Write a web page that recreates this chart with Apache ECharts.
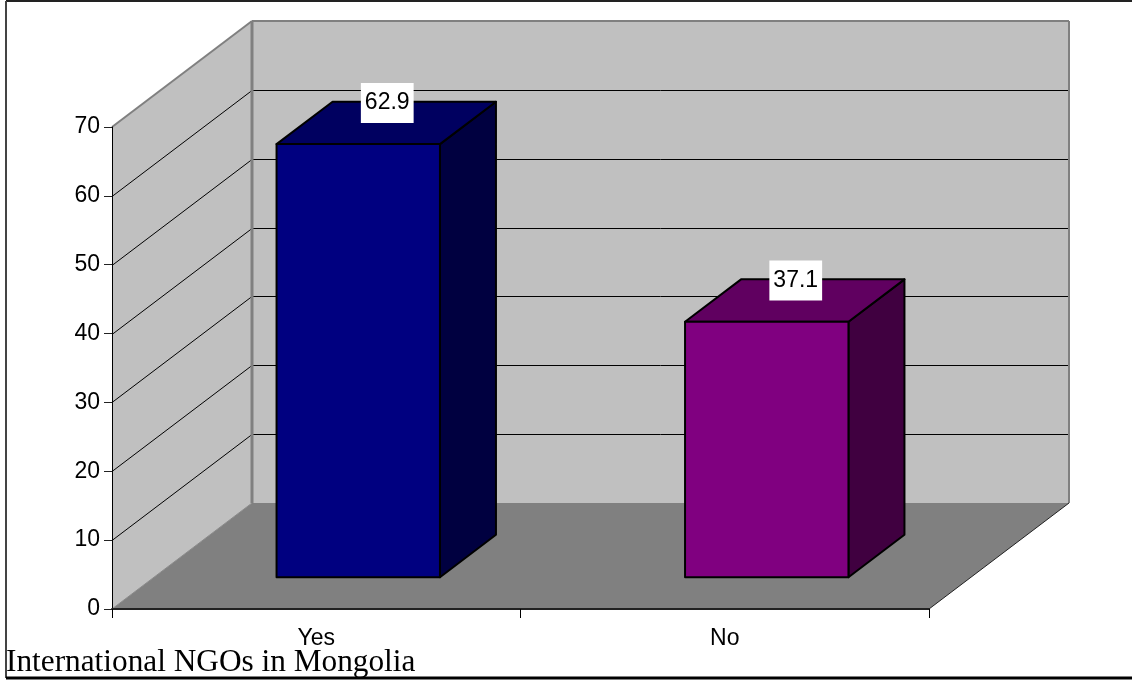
<!DOCTYPE html>
<html>
<head>
<meta charset="utf-8">
<style>html,body{margin:0;padding:0;background:#fff}#c{width:1132px;height:680px}</style>
<script src="https://cdn.jsdelivr.net/npm/echarts@6/dist/echarts.min.js"></script>
</head>
<body>
<div id="c"></div>
<script>
const categories = ['Yes', 'No'];
const values = [62.9, 37.1];
const yTicks = [10, 20, 30, 40, 50, 60, 70];
const chartTitle = 'International NGOs in Mongolia';

const faceColors = [
  { front: '#000080', top: '#000060', side: '#000040' },
  { front: '#800080', top: '#600060', side: '#400040' }
];
const DX = 140, DY = -106;           // projection of the full floor depth
const BAR_START = 0.3, BAR_END = 0.7; // bar's depth range within the floor
const BAR_W = 0.4;                    // bar's width as a share of the band
const LABEL_FONT = '"Liberation Sans"';

function poly(points, fill, stroke, lw) {
  return { type: 'polygon', shape: { points }, style: { fill, stroke: stroke || 'none', lineWidth: lw || 0, lineJoin: 'round' } };
}
function seg(a, b, stroke, lw) {
  return { type: 'line', shape: { x1: a[0], y1: a[1], x2: b[0], y2: b[1] }, style: { stroke, lineWidth: lw } };
}

function renderWalls(params, api) {
  const cs = params.coordSys;
  const x0 = cs.x, x1 = cs.x + cs.width;
  const y0 = api.coord([0, 0])[1], yT = api.coord([0, 70])[1];
  const children = [
    poly([[x0, y0], [x0 + DX, y0 + DY], [x0 + DX, yT + DY], [x0, yT]], '#c0c0c0'),
    poly([[x0 + DX, y0 + DY], [x1 + DX, y0 + DY], [x1 + DX, yT + DY], [x0 + DX, yT + DY]], '#c0c0c0'),
    poly([[x0, y0], [x1, y0], [x1 + DX, y0 + DY], [x0 + DX, y0 + DY]], '#808080')
  ];
  yTicks.slice(0, -1).forEach(t => {
    const y = Math.round(api.coord([0, t])[1]) + 0.5;
    children.push(seg([x0, y], [x0 + DX, y + DY], '#000', 1));
    children.push(seg([x0 + DX, y + DY], [x1 + DX, y + DY], '#000', 1));
  });
  children.push(seg([x0, yT], [x0 + DX, yT + DY], '#808080', 2));
  children.push(seg([x0 + DX, yT + DY], [x1 + DX, yT + DY], '#808080', 2));
  children.push(seg([x0 + DX, yT + DY], [x0 + DX, y0 + DY], '#808080', 3));
  children.push(seg([x1 + DX, yT + DY], [x1 + DX, y0 + DY], '#808080', 2));
  children.push(seg([x0, y0], [x0 + DX, y0 + DY], '#8a8a8a', 1));
  children.push(seg([x1, y0], [x1 + DX, y0 + DY], '#222', 1));
  return { type: 'group', children };
}

function renderBar(params, api) {
  const idx = api.value(0), val = api.value(1);
  const base = api.coord([idx, 0]), topP = api.coord([idx, val]);
  const band = api.size([1, 0])[0];
  const w = band * BAR_W;
  const l = base[0] - w / 2 + DX * BAR_START;
  const r = l + w;
  const b = base[1] + DY * BAR_START;
  const t = topP[1] + DY * BAR_START;
  const dx = DX * (BAR_END - BAR_START), dy = DY * (BAR_END - BAR_START);
  const c = faceColors[idx];
  return {
    type: 'group',
    children: [
      poly([[r, b], [r + dx, b + dy], [r + dx, t + dy], [r, t]], c.side, '#000', 2),
      poly([[l, t], [r, t], [r + dx, t + dy], [l + dx, t + dy]], c.top, '#000', 2),
      poly([[l, b], [r, b], [r, t], [l, t]], c.front, '#000', 2),
      {
        type: 'text',
        style: {
          text: String(val), x: l + w / 2 + dx / 2 + 1, y: t + dy / 2 - 20,
          align: 'center', verticalAlign: 'middle',
          fill: '#000', font: '23px ' + LABEL_FONT,
          backgroundColor: '#fff', padding: [9, 4, 8, 4]
        }
      }
    ]
  };
}

const chart = echarts.init(document.getElementById('c'), null, { renderer: 'canvas' });
chart.setOption({
  animation: false,
  backgroundColor: '#fff',
  grid: { left: 112, right: 203, top: 127, bottom: 71, containLabel: false },
  xAxis: {
    type: 'category', data: categories, z: 5,
    axisLine: { lineStyle: { color: '#222', width: 2 } },
    axisTick: { show: true, alignWithLabel: false, length: 9, lineStyle: { color: '#000', width: 1 } },
    axisLabel: { color: '#000', fontFamily: 'Liberation Sans', fontSize: 23, margin: 18 }
  },
  yAxis: {
    type: 'value', min: 0, max: 70, interval: 10, z: 5,
    splitLine: { show: false },
    axisLine: { show: true, lineStyle: { color: '#000', width: 1 } },
    axisTick: { show: true, length: 8, lineStyle: { color: '#222', width: 1 } },
    axisLabel: { color: '#000', fontFamily: 'Liberation Sans', fontSize: 23, margin: 12 }
  },
  series: [
    { type: 'custom', z: 1, silent: true, renderItem: renderWalls, data: [[0, 0]] },
    { type: 'custom', z: 2, silent: true, renderItem: renderBar, encode: { x: 0, y: 1 },
      data: values.map((v, i) => [i, v]) }
  ],
  title: {
    text: chartTitle, left: 6, top: 647, padding: 0,
    textStyle: { fontFamily: 'Liberation Serif', fontSize: 31.3, fontWeight: 'normal', color: '#000' }
  },
  graphic: [
    { type: 'line', z: 0, shape: { x1: 6, y1: 1, x2: 1132, y2: 1 }, style: { stroke: '#222', lineWidth: 2 } },
    { type: 'line', z: 0, shape: { x1: 6, y1: 1, x2: 6, y2: 678 }, style: { stroke: '#444', lineWidth: 2 } },
    { type: 'line', z: 0, shape: { x1: 6, y1: 678, x2: 1132, y2: 678 }, style: { stroke: '#000', lineWidth: 3 } }
  ]
});
</script>
</body>
</html>
